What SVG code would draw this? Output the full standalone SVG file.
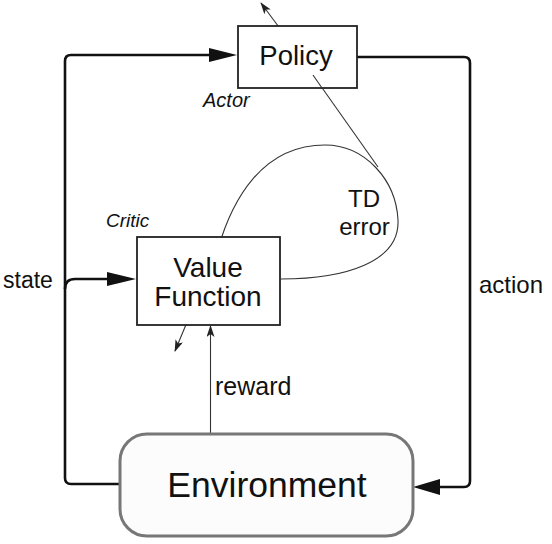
<svg xmlns="http://www.w3.org/2000/svg" width="552" height="544" viewBox="0 0 552 544">
<defs>
<marker id="thin" viewBox="0 0 12 8" refX="11" refY="4" markerWidth="12" markerHeight="8" markerUnits="userSpaceOnUse" orient="auto">
<path d="M0,0 L12,4 L0,8 L3,4 Z" fill="#222"/>
</marker>
</defs>
<style>
.t{font-family:"Liberation Sans",Arial,sans-serif;fill:#111;}
.box{fill:#fff;stroke:#222;stroke-width:1.8;}
.main{fill:none;stroke:#111;stroke-width:2.6;stroke-linejoin:round;}
.thin{fill:none;stroke:#333;stroke-width:1.1;}
.head{fill:#111;}
</style>
<rect width="552" height="544" fill="#fff"/>
<g id="connectors">
<path class="main" d="M121,484 L71,484 Q65,484 65,478 L65,61 Q65,55 71,55 L212,55"/>
<polygon class="head" points="209,48 237,55 209,62"/>
<path class="main" d="M65,289 Q65,279 75,279 L110,279"/>
<polygon class="head" points="107,272 136,279 107,286"/>
<path class="main" d="M357,57 L464,57 Q470,57 470,63 L470,481 Q470,487 464,487 L438,487"/>
<polygon class="head" points="440,479 413,487 440,495"/>
<line class="thin" x1="210.5" y1="433" x2="210.5" y2="326" marker-end="url(#thin)"/>
<line class="thin" x1="190" y1="315" x2="175" y2="351" marker-end="url(#thin)"/>
<line class="thin" x1="287" y1="38" x2="261" y2="3" marker-end="url(#thin)"/>
<path class="thin" d="M218,249 C232,200 262,145 325,145 C365,145 396,180 398,220 C400,262 345,279 281,279"/>
<line class="thin" x1="313" y1="75" x2="378" y2="167"/>
</g>
<g id="policy">
<rect class="box" x="238" y="26" width="119" height="62"/>
<text class="t" x="296" y="65" font-size="27.5" text-anchor="middle">Policy</text>
<line class="thin" x1="313" y1="75" x2="322" y2="88"/>
</g>
<g id="actor-label"><text class="t" x="203" y="107" font-size="20" font-style="italic">Actor</text></g>
<g id="value-function">
<rect class="box" x="137" y="237" width="143" height="88"/>
<text class="t" x="208" y="277" font-size="28" text-anchor="middle">Value</text>
<text class="t" x="208" y="306" font-size="28" text-anchor="middle">Function</text>
</g>
<g id="critic-label"><text class="t" x="106" y="227" font-size="19" font-style="italic">Critic</text></g>
<g id="environment">
<rect x="120" y="434" width="293" height="102" rx="27" fill="#fcfcfc" stroke="#777" stroke-width="3"/>
<text class="t" x="267" y="497" font-size="35.5" text-anchor="middle">Environment</text>
</g>
<g id="labels">
<text class="t" x="3" y="288" font-size="23">state</text>
<text class="t" x="479" y="293" font-size="24">action</text>
<text class="t" x="215" y="395" font-size="25">reward</text>
<text class="t" x="364" y="207" font-size="24" text-anchor="middle">TD</text>
<text class="t" x="364.5" y="235" font-size="24" text-anchor="middle">error</text>
</g>
</svg>
